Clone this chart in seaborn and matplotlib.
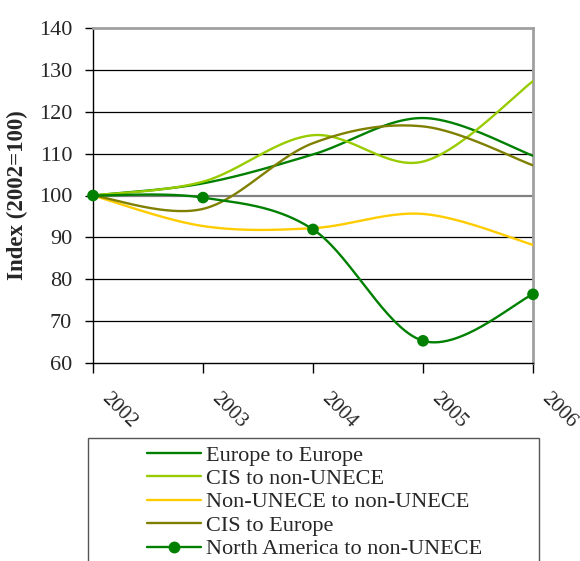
import numpy as np
import pandas as pd
import matplotlib
matplotlib.use("Agg")
import matplotlib.pyplot as plt
import matplotlib.transforms as mtransforms
from matplotlib.lines import Line2D
from matplotlib.patches import Rectangle
import seaborn as sns

years = [2002, 2003, 2004, 2005, 2006]
series_names = ["Europe to Europe", "CIS to non-UNECE", "Non-UNECE to non-UNECE",
                "CIS to Europe", "North America to non-UNECE"]
europe_to_europe = [100, 102.9, 109.8, 118.5, 109.5]
cis_to_non_unece = [100, 103.3, 114.4, 108.1, 127.3]
non_unece_to_non_unece = [100, 92.7, 92.2, 95.6, 88.2]
cis_to_europe = [100, 96.8, 112.5, 116.5, 107.2]
north_america_to_non_unece = [100, 99.5, 91.9, 65.3, 76.4]
colors = ["#008000", "#99CC00", "#FFCC00", "#808000", "#008000"]
yticks = [60, 70, 80, 90, 100, 110, 120, 130, 140]

values = [europe_to_europe, cis_to_non_unece, non_unece_to_non_unece,
          cis_to_europe, north_america_to_non_unece]


def excel_smooth(x, y, n=60):
    pts = np.column_stack([x, y]).astype(float)
    P = np.vstack([pts[0], pts, pts[-1]])
    out = []
    t = np.linspace(0, 1, n)[:, None]
    for i in range(len(pts) - 1):
        p0, p1, p2, p3 = P[i], P[i + 1], P[i + 2], P[i + 3]
        b1 = p1 + (p2 - p0) / 6
        b2 = p2 - (p3 - p1) / 6
        seg = (1 - t) ** 3 * p1 + 3 * (1 - t) ** 2 * t * b1 + 3 * (1 - t) * t ** 2 * b2 + t ** 3 * p2
        out.append(seg if i == 0 else seg[1:])
    return np.vstack(out)


rows = []
for name, vals in zip(series_names, values):
    sm = excel_smooth(years, vals)
    for j, (xx, yy) in enumerate(sm):
        rows.append({"series": name, "x": xx, "y": yy, "order": j})
df = pd.DataFrame(rows)
pts = pd.DataFrame({"x": years, "y": north_america_to_non_unece})

sns.set_style("white")
plt.rcParams["font.family"] = ["Liberation Serif", "DejaVu Serif"]

fig = plt.figure(figsize=(5.8, 5.61), dpi=100)
ax = fig.add_axes([93 / 580, 1 - 363 / 561, (533 - 93) / 580, (363 - 28) / 561])

for yv in yticks[1:-1]:
    ax.axhline(yv, color="#808080" if yv == 100 else "black", lw=1.6 if yv == 100 else 0.9, zorder=1)

sns.lineplot(data=df, x="x", y="y", hue="series", hue_order=series_names,
             palette=colors, sort=False, estimator=None, units="series",
             lw=1.7, legend=False, ax=ax, zorder=3)
sns.scatterplot(data=pts, x="x", y="y", color="#008000", s=70, edgecolor="none",
                ax=ax, zorder=4, clip_on=False, legend=False)

ax.set_xlim(2002, 2006)
ax.set_ylim(60, 140)
ax.set_yticks(yticks)
ax.set_xticks(years)
ax.set_xticklabels([str(y) for y in years])
ax.set_xlabel("")
ax.set_ylabel("Index (2002=100)", fontsize=16.5, fontweight="bold", labelpad=8)

ax.tick_params(axis="y", direction="out", length=6, width=1, color="black",
               labelsize=16, pad=9, left=True)
ax.tick_params(axis="x", direction="out", length=7, width=1, color="black",
               labelsize=15, pad=12, bottom=True)
offset = mtransforms.ScaledTranslation(5 / 100, 0, fig.dpi_scale_trans)
for lab in ax.get_xticklabels():
    lab.set_rotation(-45)
    lab.set_ha("left")
    lab.set_va("top")
    lab.set_transform(lab.get_transform() + offset)

for side in ["left", "bottom"]:
    ax.spines[side].set_color("black")
    ax.spines[side].set_linewidth(1.0)
for side in ["top", "right"]:
    ax.spines[side].set_color("#A0A0A0")
    ax.spines[side].set_linewidth(2.0)

fig.patches.append(Rectangle((88 / 580, -0.1), (539 - 88) / 580, 1 - 438 / 561 + 0.1,
                             transform=fig.transFigure, fill=False,
                             edgecolor="#555555", lw=1.0))

handles = []
for i, (name, c) in enumerate(zip(series_names, colors)):
    if i == 4:
        handles.append(Line2D([], [], color=c, lw=1.7, marker="o", markersize=7.5))
    else:
        handles.append(Line2D([], [], color=c, lw=1.7))
fig.legend(handles, series_names, loc="upper left",
           bbox_to_anchor=(147 / 580, 1 - 445 / 561), frameon=False,
           fontsize=16, borderpad=0, borderaxespad=0, handlelength=2.45,
           handletextpad=0.22, labelspacing=0.13)

fig.savefig("out.png", dpi=100)
